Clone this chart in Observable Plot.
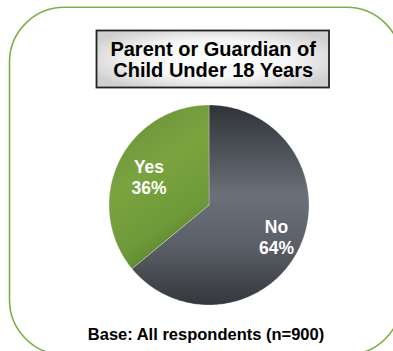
<!DOCTYPE html>
<html>
<head>
<meta charset="utf-8">
<script src="https://cdn.jsdelivr.net/npm/d3@7"></script>
<script src="https://cdn.jsdelivr.net/npm/@observablehq/plot@0.6"></script>
<style>
  html, body { margin: 0; padding: 0; background: #fff; }
  svg { display: block; font-family: "Liberation Sans", Arial, sans-serif; }
</style>
</head>
<body>
<div id="chart"></div>
<script>
// ---- data ----
const categories = ["No", "Yes"];
const values = [64, 36];
const valueLabels = ["64%", "36%"];
const titleLines = ["Parent or Guardian of", "Child Under 18 Years"];
const caption = "Base: All respondents (n=900)";

// ---- layout ----
const W = 393, H = 351;
const cx = 208.5, cy = 204.5, R = 100;
const labelRadius = {No: 0.746, Yes: 0.663};
const fills = {No: "url(#gNo)", Yes: "url(#gYes)"};

const arcs = d3.pie().sort(null).value(d => d.value)(
  categories.map((c, i) => ({category: c, value: values[i], label: valueLabels[i]}))
);

// polygon points for each slice (angles measured clockwise from 12 o'clock)
function slicePoints(a) {
  const pts = [{category: a.data.category, x: cx, y: cy}];
  const n = Math.max(2, Math.ceil((a.endAngle - a.startAngle) / (Math.PI / 180)));
  for (let k = 0; k <= n; k++) {
    const t = a.startAngle + (a.endAngle - a.startAngle) * k / n;
    pts.push({category: a.data.category, x: cx + R * Math.sin(t), y: cy - R * Math.cos(t)});
  }
  pts.push({category: a.data.category, x: cx, y: cy});
  return pts;
}

const labelData = arcs.map(a => {
  const m = (a.startAngle + a.endAngle) / 2;
  const r = R * labelRadius[a.data.category];
  return {text: a.data.category + "\n" + a.data.label, x: cx + r * Math.sin(m), y: cy - r * Math.cos(m)};
});

// decorative background: rounded green frame, gradient defs and the title box
function decor(index, scales, values, dims) {
  const g = d3.create("svg:g");
  const defs = g.append("defs");
  const gn = defs.append("linearGradient").attr("id", "gNo").attr("x1", 0).attr("y1", 0).attr("x2", 0).attr("y2", 1);
  gn.append("stop").attr("offset", "0%").attr("stop-color", "#2f3337");
  gn.append("stop").attr("offset", "45%").attr("stop-color", "#6a7079");
  gn.append("stop").attr("offset", "70%").attr("stop-color", "#5b6068");
  gn.append("stop").attr("offset", "100%").attr("stop-color", "#34373b");
  const gy = defs.append("linearGradient").attr("id", "gYes").attr("x1", 0.2).attr("y1", 0).attr("x2", 0.6).attr("y2", 1);
  gy.append("stop").attr("offset", "0%").attr("stop-color", "#6a903a");
  gy.append("stop").attr("offset", "40%").attr("stop-color", "#79a43f");
  gy.append("stop").attr("offset", "75%").attr("stop-color", "#6f9a39");
  gy.append("stop").attr("offset", "100%").attr("stop-color", "#557d2c");
  const gt = defs.append("radialGradient").attr("id", "gTitle").attr("cx", 0.5).attr("cy", 0.5).attr("r", 0.6);
  gt.append("stop").attr("offset", "0%").attr("stop-color", "#ffffff");
  gt.append("stop").attr("offset", "55%").attr("stop-color", "#f6f6f6");
  gt.append("stop").attr("offset", "100%").attr("stop-color", "#cfcfcf");

  g.append("rect").attr("x", 9.5).attr("y", 7.3).attr("width", 392).attr("height", 347.5)
    .attr("rx", 55).attr("ry", 55)
    .attr("fill", "none").attr("stroke", "#7cae46").attr("stroke-width", 1.6);
  g.append("rect").attr("x", 96.5).attr("y", 30.5).attr("width", 232.5).attr("height", 57)
    .attr("fill", "url(#gTitle)").attr("stroke", "#222").attr("stroke-width", 1.8);
  return g.node();
}

const marks = [decor];
arcs.forEach(a => {
  marks.push(Plot.line(slicePoints(a), {
    x: "x", y: "y", curve: "linear",
    fill: fills[a.data.category], stroke: "#ffffff", strokeOpacity: 0.35, strokeWidth: 0.8
  }));
});
marks.push(Plot.text(labelData, {
  x: "x", y: "y", text: "text", fill: "#ffffff", fontWeight: "bold", fontSize: 17.5,
  lineHeight: 1.2, textAnchor: "middle", lineAnchor: "middle"
}));
marks.push(Plot.text([titleLines.join("\n")], {
  x: () => 212.7, y: () => 76, text: d => d, fill: "#000", fontWeight: "bold", fontSize: 20,
  lineHeight: 1.05, textAnchor: "middle", lineAnchor: "bottom"
}));
marks.push(Plot.text([caption], {
  x: () => 205.5, y: () => 339, text: d => d, fill: "#000", fontWeight: "bold", fontSize: 16.5,
  textAnchor: "middle", lineAnchor: "bottom"
}));

const chart = Plot.plot({
  width: W, height: H, margin: 0,
  x: {domain: [0, W], range: [0, W], axis: null},
  y: {domain: [0, H], range: [0, H], axis: null},
  style: {fontFamily: '"Liberation Sans", Arial, sans-serif', background: "#fff"},
  marks
});
document.getElementById("chart").appendChild(chart);
</script>
</body>
</html>
